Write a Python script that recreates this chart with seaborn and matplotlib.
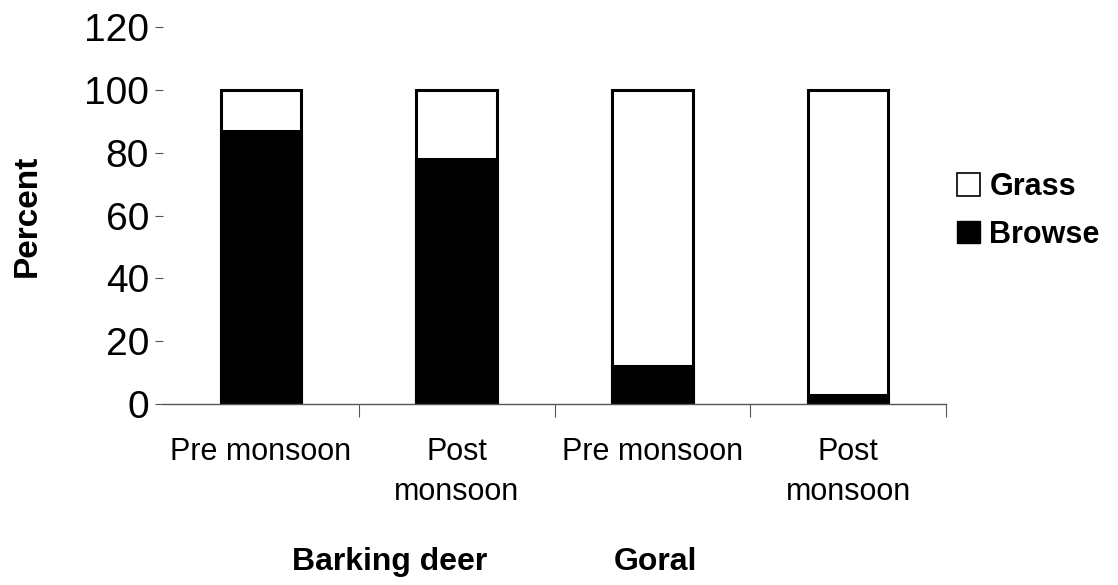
import matplotlib
matplotlib.use("Agg")
import matplotlib.pyplot as plt
import seaborn as sns
import pandas as pd
from matplotlib.patches import Patch

# data
keys = ["bd_pre", "bd_post", "go_pre", "go_post"]
seasons = ["Pre monsoon", "Post\nmonsoon", "Pre monsoon", "Post\nmonsoon"]
species = ["Barking deer", "Goral"]
browse = [87, 78, 12, 3]
grass = [13, 22, 88, 97]

df = pd.DataFrame({"key": keys, "browse": browse, "grass": grass})
df["total"] = df["browse"] + df["grass"]

sns.set_style("white", {"text.color": "black", "axes.labelcolor": "black",
                        "xtick.color": "black", "ytick.color": "black"})
plt.rcParams["font.family"] = ["Liberation Sans", "DejaVu Sans"]

fig = plt.figure(figsize=(11.18, 5.85), dpi=100)
ax = fig.add_axes([163 / 1118, 1 - 404 / 585, 783 / 1118, 377 / 585])

# grass sits on top of browse: draw the total in white, browse in black over it
sns.barplot(data=df, x="key", y="total", color="white", edgecolor="black",
            linewidth=2.2, width=0.41, saturation=1, ax=ax)
sns.barplot(data=df, x="key", y="browse", color="black", edgecolor="black",
            linewidth=2.2, width=0.41, saturation=1, ax=ax)

ax.set_xlim(-0.5, 3.5)
ax.set_ylim(0, 120)
ax.set_yticks(range(0, 121, 20))
ax.tick_params(axis="y", labelsize=28, length=6, width=0.8, pad=4,
               left=True, color="#555555", labelcolor="black")

ax.set_xticks(range(4))
ax.set_xticklabels(seasons, fontsize=22, linespacing=1.4)
ax.set_xticks([0.5, 1.5, 2.5, 3.5], minor=True)
ax.tick_params(axis="x", which="major", length=0, pad=24, labelcolor="black")
ax.tick_params(axis="x", which="minor", length=9, width=0.8, bottom=True,
               color="#555555")

ax.set_xlabel("")
ax.set_ylabel("Percent", fontsize=24, fontweight="bold", color="black")
ax.yaxis.set_label_coords(-0.153, 0.5)

sns.despine(ax=ax, left=True)
ax.spines["bottom"].set_color("#555555")
ax.spines["bottom"].set_linewidth(1.0)

for name, xc in zip(species, [390, 655]):
    fig.text(xc / 1118, 1 - 562 / 585, name, fontsize=23, fontweight="bold",
             ha="center", va="center", color="black")

handles = [Patch(facecolor="white", edgecolor="black", linewidth=1.2, label="Grass"),
           Patch(facecolor="black", edgecolor="black", label="Browse")]
fig.legend(handles=handles, loc="center left",
           bbox_to_anchor=(945 / 1118, 1 - 211 / 585), frameon=False,
           prop={"size": 22, "weight": "bold"}, handlelength=0.75,
           handleheight=0.75, handletextpad=0.3, labelspacing=0.58,
           borderaxespad=0, labelcolor="black")

fig.savefig("out.png", dpi=100)
